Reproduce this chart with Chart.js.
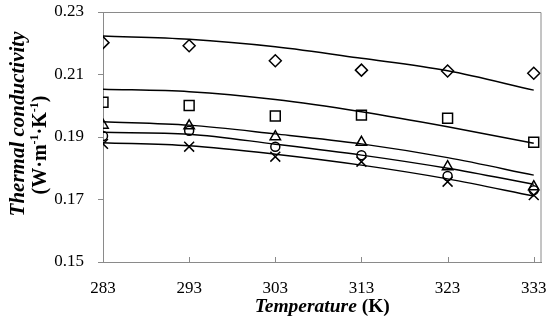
<!DOCTYPE html>
<html>
<head>
<meta charset="utf-8">
<script src="https://cdn.jsdelivr.net/npm/chart.js@4"></script>
<style>
  html, body { margin: 0; padding: 0; background: #fff; }
  #wrap { width: 550px; height: 321px; }
</style>
</head>
<body>
<div id="wrap"><canvas id="chart"></canvas></div>
<script>
  // Temperatures (K) and tick labels
  const temps = [283, 293, 303, 313, 323, 333];
  const yTicks = [0.15, 0.17, 0.19, 0.21, 0.23];

  // Measured values (markers)
  const diamondVals = [0.2202, 0.2192, 0.2144, 0.2114, 0.2111, 0.2104];
  const squareVals = [0.2011, 0.2001, 0.1967, 0.1970, 0.1960, 0.1883];
  const triangleVals = [0.1938, 0.1936, 0.1901, 0.1883, 0.1805, 0.1741];
  const circleVals = [0.1903, 0.1920, 0.1869, 0.1842, 0.1775, 0.1730];
  const crossVals = [0.1878, 0.1869, 0.1837, 0.1821, 0.1757, 0.1714];

  // Fitted curves (solid lines)
  const diamondFit = [0.2223, 0.2213, 0.2189, 0.2152, 0.2112, 0.2050];
  const squareFit = [0.2053, 0.2045, 0.2020, 0.1981, 0.1933, 0.1880];
  const triangleFit = [0.1949, 0.1938, 0.1910, 0.1878, 0.1834, 0.1778];
  const circleFit = [0.1915, 0.1909, 0.1877, 0.1842, 0.1800, 0.1749];
  const crossFit = [0.1882, 0.1872, 0.1845, 0.1810, 0.1766, 0.1711];

  const AXIS_GRAY = '#8a8a8a';
  const SERIF = '"Liberation Serif", "Times New Roman", serif';

  function pts(vals) {
    return vals.map((v, i) => ({ x: temps[i], y: v }));
  }

  function markers(vals, style, radius) {
    return {
      data: pts(vals),
      showLine: false,
      pointStyle: style,
      pointRadius: radius,
      pointBorderColor: '#000',
      pointBackgroundColor: 'rgba(0,0,0,0)',
      pointBorderWidth: 1.5
    };
  }

  function fit(vals) {
    return {
      data: pts(vals),
      showLine: true,
      borderColor: '#000',
      borderWidth: 1.5,
      pointRadius: 0,
      cubicInterpolationMode: 'monotone'
    };
  }

  // no label overflow padding, so the plot area keeps its set size
  function noPad(s) {
    s.paddingLeft = 0;
    s.paddingRight = 0;
    s.paddingTop = 0;
    s.paddingBottom = 0;
  }

  // Plot frame, inward x ticks, axis titles
  const decor = {
    id: 'decor',
    afterDraw(chart) {
      const { ctx, chartArea: a, scales } = chart;
      ctx.save();
      ctx.strokeStyle = AXIS_GRAY;
      ctx.lineWidth = 1;
      ctx.beginPath();
      ctx.moveTo(a.left, a.top + 0.5);
      ctx.lineTo(a.right - 0.5, a.top + 0.5);
      ctx.lineTo(a.right - 0.5, a.bottom);
      temps.slice(1).forEach(t => {
        let px = Math.round(scales.x.getPixelForValue(t)) + 0.5;
        ctx.moveTo(px, a.bottom);
        ctx.lineTo(px, a.bottom - 5);
      });
      ctx.stroke();

      ctx.fillStyle = '#000';
      ctx.textBaseline = 'middle';

      // x title: "Temperature (K)"
      let f1 = 'italic bold 19.5px ' + SERIF,
        f2 = 'bold 19.5px ' + SERIF,
        t1 = 'Temperature',
        t2 = ' (K)';
      ctx.font = f1;
      let w1 = ctx.measureText(t1).width;
      ctx.font = f2;
      let w2 = ctx.measureText(t2).width,
        x0 = (a.left + a.right) / 2 - (w1 + w2) / 2;
      ctx.textAlign = 'left';
      ctx.font = f1;
      ctx.fillText(t1, x0, 307);
      ctx.font = f2;
      ctx.fillText(t2, x0 + w1, 307);

      // y title, two lines rotated
      ctx.save();
      ctx.translate(19, 124);
      ctx.rotate(-Math.PI / 2);
      ctx.textAlign = 'center';
      ctx.font = 'italic bold 21px ' + SERIF;
      ctx.fillText('Thermal conductivity', 0, 0);
      ctx.restore();

      ctx.save();
      ctx.translate(41, 145);
      ctx.rotate(-Math.PI / 2);
      let parts = [
        ['(W·m', 'bold 20px ' + SERIF, 0],
        ['-1', 'bold 12px ' + SERIF, -6],
        ['·K', 'bold 20px ' + SERIF, 0],
        ['-1', 'bold 12px ' + SERIF, -6],
        [')', 'bold 20px ' + SERIF, 0]
      ];
      let total = 0;
      parts.forEach(p => { ctx.font = p[1]; total += ctx.measureText(p[0]).width; });
      let cx = -total / 2;
      ctx.textAlign = 'left';
      parts.forEach(p => {
        ctx.font = p[1];
        ctx.fillText(p[0], cx, p[2]);
        cx += ctx.measureText(p[0]).width;
      });
      ctx.restore();
      ctx.restore();
    }
  };

  new Chart(document.getElementById('chart').getContext('2d'), {
    type: 'scatter',
    data: {
      datasets: [
        fit(diamondFit), fit(squareFit), fit(triangleFit), fit(circleFit), fit(crossFit),
        markers(diamondVals, 'rectRot', 6),
        markers(squareVals, 'rect', 7),
        markers(triangleVals, 'triangle', 6),
        markers(circleVals, 'circle', 4.5),
        markers(crossVals, 'crossRot', 7)
      ]
    },
    options: {
      responsive: true,
      maintainAspectRatio: false,
      animation: false,
      layout: { padding: { top: 12, right: 6, left: 0, bottom: 0 } },
      plugins: { legend: { display: false }, tooltip: { enabled: false } },
      scales: {
        x: {
          type: 'linear',
          min: 283,
          max: 333.9,
          afterBuildTicks: (s) => { s.ticks = temps.map(v => ({ value: v })); },
          afterFit: (s) => { s.height = 59; noPad(s); },
          grid: { display: false, drawTicks: false },
          border: { display: true, color: AXIS_GRAY, width: 1 },
          ticks: {
            color: '#000',
            padding: 16,
            maxRotation: 0,
            font: { family: SERIF, size: 17 },
            callback: (v) => String(v)
          }
        },
        y: {
          min: 0.15,
          max: 0.23,
          afterBuildTicks: (s) => { s.ticks = yTicks.map(v => ({ value: v })); },
          afterFit: (s) => { s.width = 103; noPad(s); },
          grid: { display: true, drawOnChartArea: false, drawTicks: true, tickLength: 5, color: AXIS_GRAY },
          border: { display: true, color: AXIS_GRAY, width: 1 },
          ticks: {
            color: '#000',
            padding: 14,
            font: { family: SERIF, size: 17 },
            callback: (v) => Number(v).toFixed(2)
          }
        }
      }
    },
    plugins: [decor]
  });
</script>
</body>
</html>
